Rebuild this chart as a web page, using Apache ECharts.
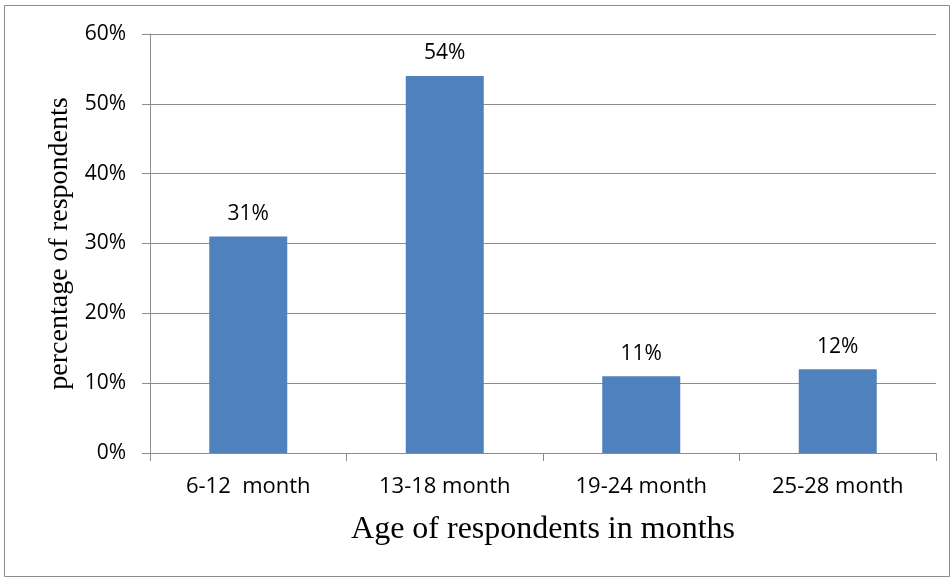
<!DOCTYPE html>
<html>
<head>
<meta charset="utf-8">
<script src="https://cdn.jsdelivr.net/npm/echarts@6/dist/echarts.min.js"></script>
<style>
  html, body { margin: 0; padding: 0; background: #fff; }
  #chart { width: 951px; height: 578px; }
</style>
</head>
<body>
<div id="chart"></div>
<script>
// data
const categories = ['6-12  month', '13-18 month', '19-24 month', '25-28 month'];
const percents = [31, 54, 11, 12];
const yTicks = [0, 60, 10]; // min, max, step

const chart = echarts.init(document.getElementById('chart'));

const labelFont = '"Open Sans", "Noto Sans", sans-serif';
const serif = '"Liberation Serif", "DejaVu Serif", serif';

chart.setOption({
    backgroundColor: '#fff',
    animation: false,
    graphic: [{
        type: 'rect',
        shape: { x: 4.5, y: 5.5, width: 945, height: 571 },
        style: { fill: 'none', stroke: '#8c8c8c', lineWidth: 1 },
        silent: true
    }],
    grid: { left: 150, right: 15, top: 34, bottom: 125 },
    xAxis: {
        type: 'category',
        data: categories,
        name: 'Age of respondents in months',
        nameLocation: 'middle',
        nameGap: 61,
        nameTextStyle: { fontFamily: serif, fontSize: 32, color: '#000' },
        axisLine: { lineStyle: { color: '#8c8c8c', width: 1 } },
        axisTick: { show: true, length: 8, lineStyle: { color: '#8c8c8c' } },
        axisLabel: { fontFamily: labelFont, fontSize: 22, color: '#000', margin: 23 }
    },
    yAxis: {
        type: 'value',
        min: yTicks[0],
        max: yTicks[1],
        interval: yTicks[2],
        name: 'percentage of respondents',
        nameLocation: 'middle',
        nameGap: 74,
        nameRotate: 90,
        nameTextStyle: { fontFamily: serif, fontSize: 28, color: '#000' },
        axisLine: { show: true, lineStyle: { color: '#8c8c8c', width: 1 } },
        axisTick: { show: true, length: 8, lineStyle: { color: '#8c8c8c' } },
        splitLine: { show: true, lineStyle: { color: '#8c8c8c', width: 1 } },
        axisLabel: { fontFamily: labelFont, fontSize: 21, color: '#000', margin: 24, formatter: '{value}%' }
    },
    series: [{
        type: 'bar',
        data: percents,
        barWidth: 78,
        itemStyle: { color: '#4f81bd' },
        label: {
            show: true,
            position: 'top',
            distance: 12,
            formatter: '{c}%',
            fontFamily: labelFont,
            fontSize: 21,
            color: '#000'
        }
    }]
});
</script>
</body>
</html>
